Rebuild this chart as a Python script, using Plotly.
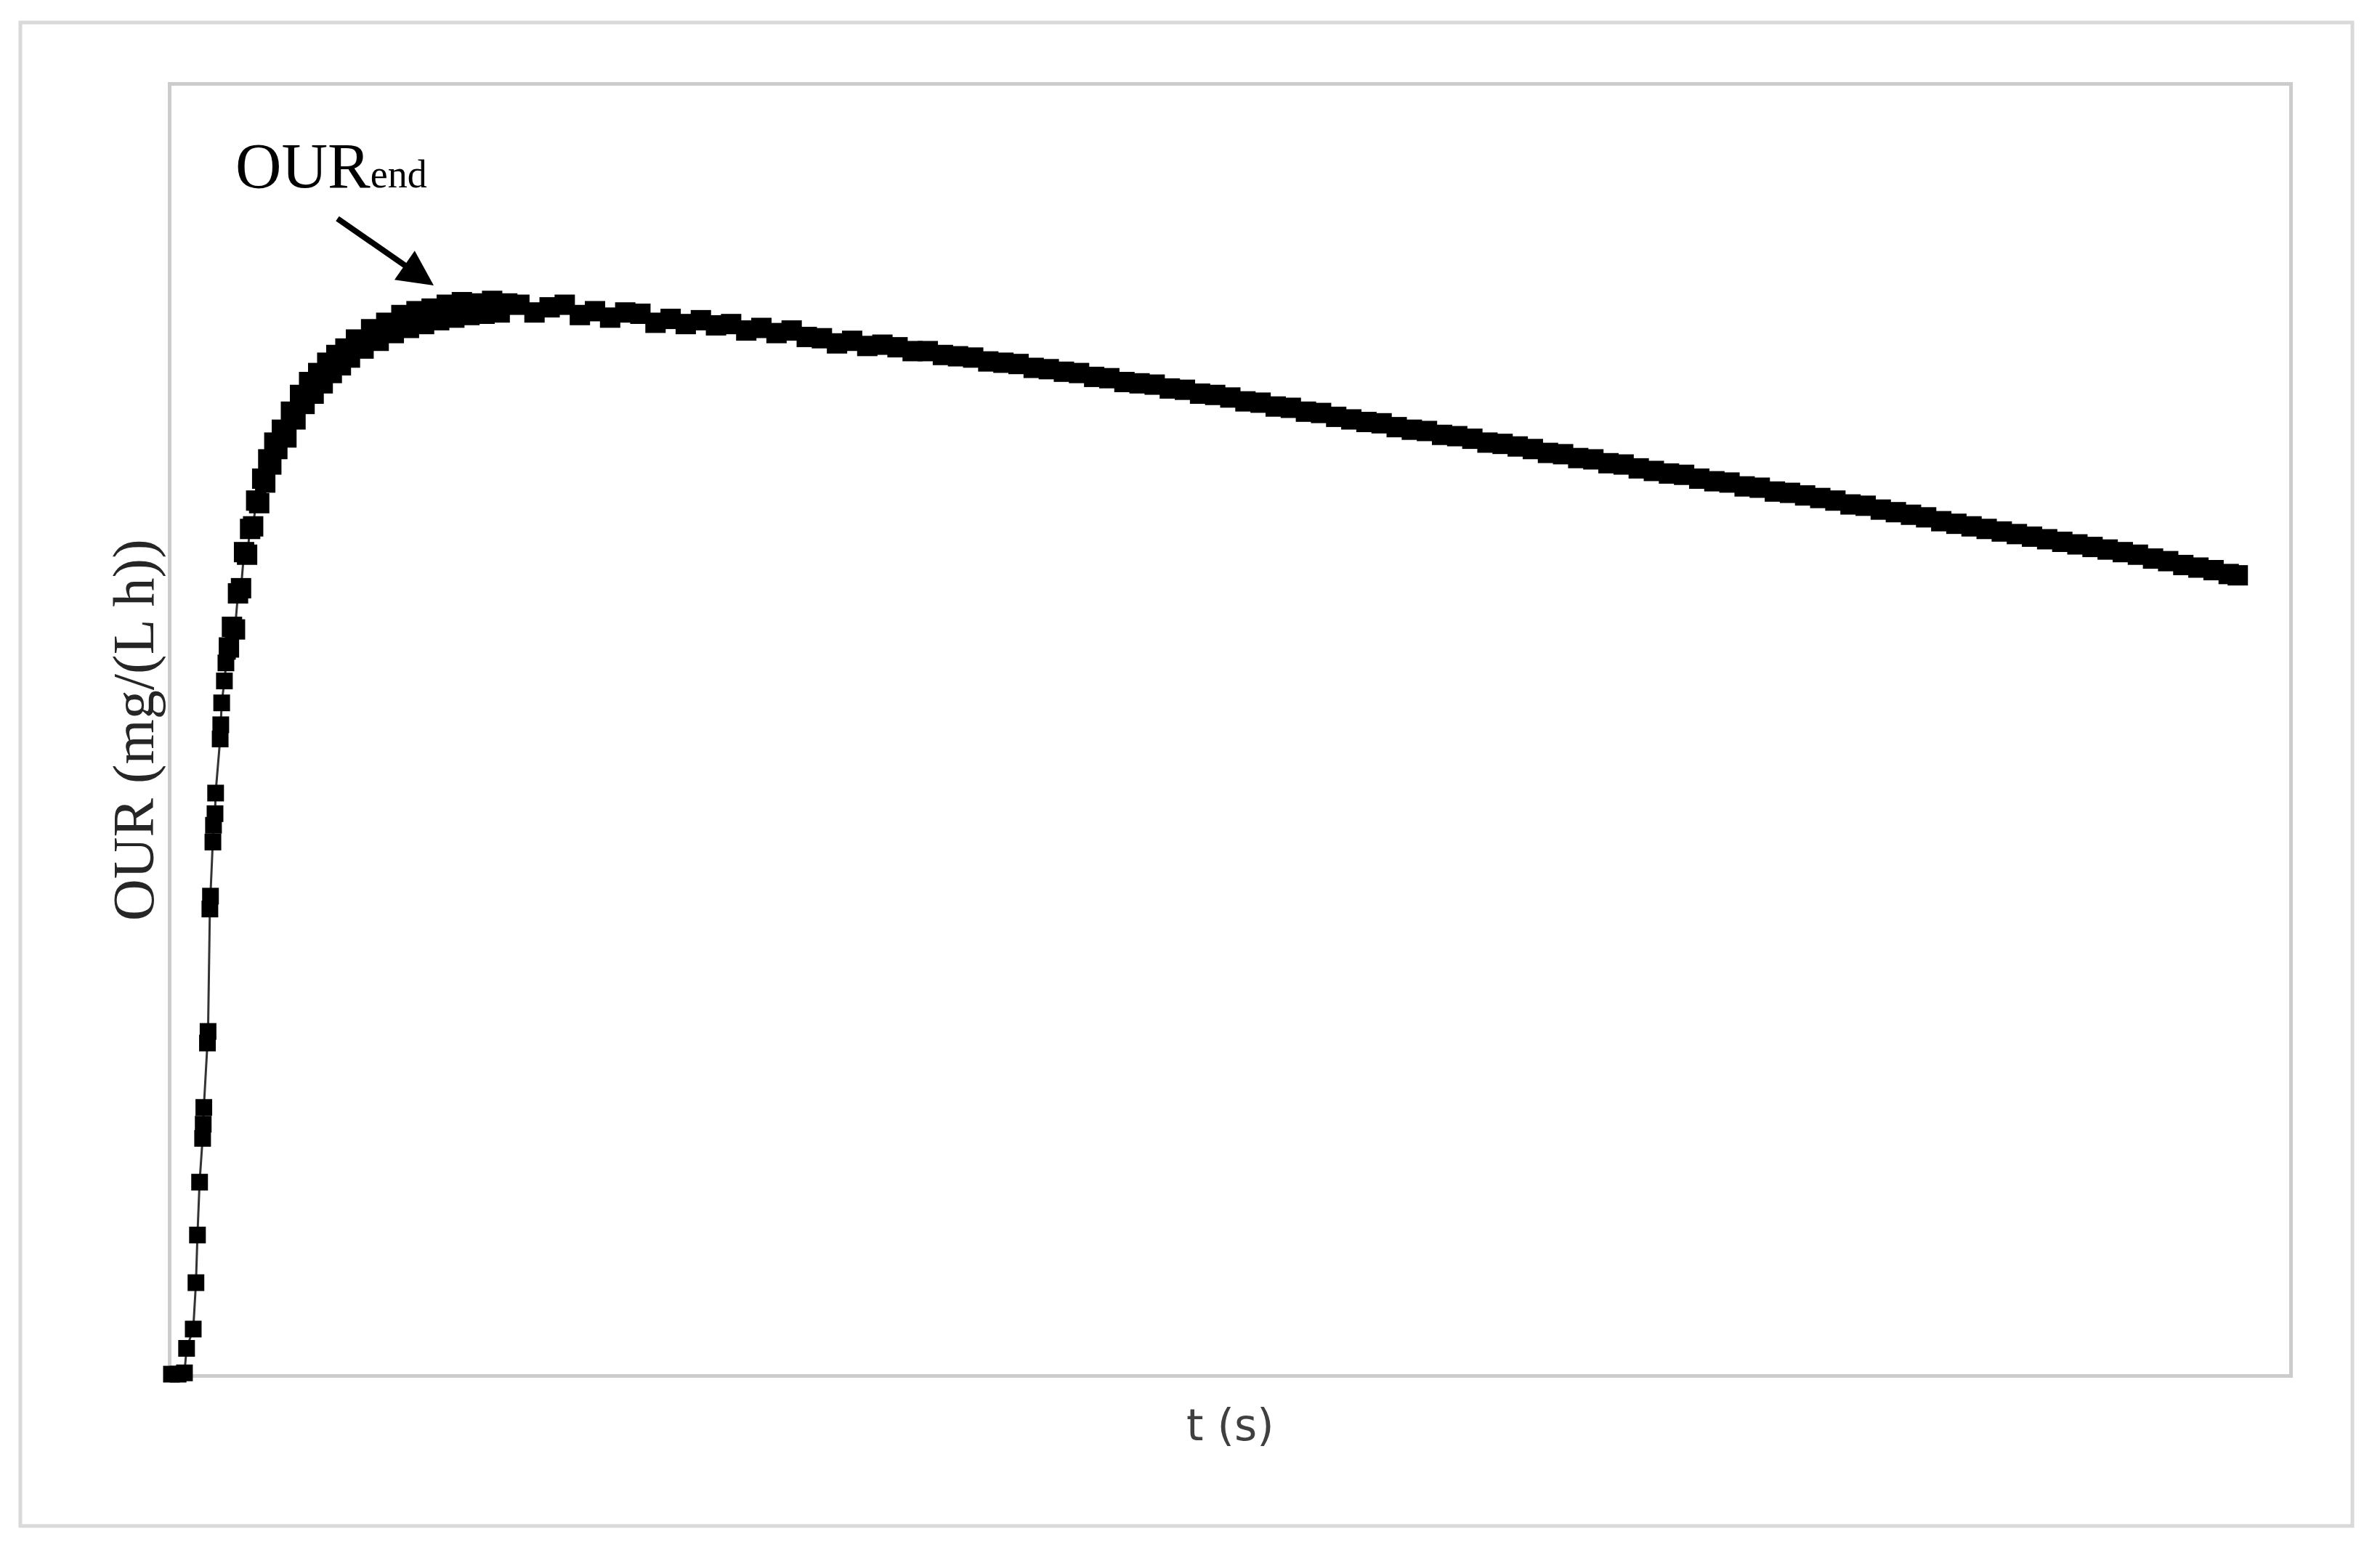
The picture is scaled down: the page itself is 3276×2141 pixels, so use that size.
import plotly.graph_objects as go

# OUR respirogram, values (no tick labels in the original)

# steep start, irregular sampling
t_rise = [0.0, 2.2, 4.3, 5.0, 7.2, 8.1, 8.6, 9.3, 10.3, 10.5, 10.7, 11.9, 12.1,
          12.7, 12.9, 13.7, 13.9, 14.4, 14.6, 16.1, 16.3, 16.6, 17.5, 18.0, 18.5]
our_rise = [0.0, 0.0, 0.1, 2.0, 3.5, 7.1, 10.8, 14.9, 18.3, 19.4, 20.7, 25.7, 26.6,
            36.1, 37.1, 41.3, 42.6, 43.5, 45.1, 49.3, 50.4, 52.1, 53.8, 55.2, 56.1]

# knee
t_knee = [19, 20, 21, 22, 23, 24, 25, 26, 27, 28, 29, 30, 31, 32, 33, 34, 35,
          36.5, 38, 39.5, 41, 42.5, 44, 45.5, 47, 48.5, 50, 51.5, 53, 54.5, 56, 57.5, 59,
          61, 63.5, 66, 68.5, 71, 73.5, 76, 78.5, 81, 83.5, 86, 88.5, 91, 93.5, 96, 98.5,
          101, 103.5, 106, 108.5, 111]
our_knee = [56.4, 58.0, 57.8, 60.6, 61.0, 63.8, 63.6, 65.6, 65.8, 67.8, 67.6, 69.5, 69.2,
            71.0, 70.6, 72.3, 71.8,
            73.3, 72.7, 74.7, 74.1, 76.0, 75.3, 77.0, 76.1, 77.7, 76.9, 78.5, 77.7, 79.1,
            78.3, 79.6, 78.9,
            80.3, 79.6, 81.1, 80.2, 81.6, 80.8, 82.2, 81.2, 82.5, 81.5, 82.7, 81.8, 83.0,
            82.0, 83.2, 82.2, 83.1, 82.3, 83.3, 82.4, 83.1]

# slow decline, every 5 s
t_tail = list(range(115, 685, 5)) + [683]
our_tail = [83.0, 82.4, 82.8, 83.0, 82.2, 82.5, 82.0, 82.4, 82.3, 81.6, 81.9, 81.5,
            81.8, 81.4, 81.5, 81.0, 81.2, 80.8, 81.0, 80.5, 80.4, 80.0, 80.2, 79.8, 79.9,
            79.7, 79.4, 79.4, 79.1, 79.0, 78.9, 78.6, 78.5, 78.4, 78.1, 78.0, 77.8,
            77.7, 77.4, 77.3, 77.0, 76.9, 76.8, 76.5, 76.4, 76.1, 76.0, 75.8, 75.5,
            75.4, 75.1, 75.0, 74.7, 74.6, 74.3, 74.1, 73.9, 73.8, 73.5, 73.3, 73.2,
            72.9, 72.8, 72.6, 72.3, 72.2, 72.0, 71.8, 71.5, 71.4, 71.1, 71.0, 70.7,
            70.6, 70.3, 70.1, 69.9, 69.8, 69.5, 69.3, 69.2, 68.9, 68.8, 68.5, 68.4,
            68.2, 68.0, 67.8, 67.5, 67.4, 67.1, 66.9, 66.7, 66.5, 66.2, 66.0, 65.8,
            65.6, 65.4, 65.2, 65.0, 64.8, 64.6, 64.4, 64.2, 64.0, 63.8, 63.6, 63.3,
            63.1, 62.8, 62.6, 62.4, 62.1, 62.0]

W, H = 3276, 2141
L, R, T, B = 236, 3151, 118, 1892   # plot area in pixels
X_MAX, Y_MAX = 700, 100


def px_x(p):
    return (p - L) / (R - L)


def px_y(p):
    return (B - p) / (B - T)


fig = go.Figure()

# full series: thin connecting line plus square markers
fig.add_trace(go.Scatter(
    x=t_rise + t_knee + t_tail,
    y=our_rise + our_knee + our_tail,
    mode='lines+markers',
    line=dict(color='#333333', width=3),
    marker=dict(symbol='square', size=23, color='black', line=dict(width=0)),
    cliponaxis=False,
    showlegend=False,
))

# where samples are dense they merge into a thicker band
fig.add_trace(go.Scatter(
    x=t_knee + t_tail,
    y=our_knee + our_tail,
    mode='markers',
    marker=dict(symbol='square', size=28, color='black', line=dict(width=0)),
    cliponaxis=False,
    showlegend=False,
))

axis_style = dict(showgrid=False, zeroline=False, showticklabels=False, ticks='',
                  showline=True, mirror=True, linecolor='#cccccc', linewidth=5,
                  layer='below traces')

fig.update_layout(
    width=W, height=H,
    margin=dict(l=L, r=W - R, t=T, b=H - B),
    paper_bgcolor='white', plot_bgcolor='white',
    xaxis=dict(range=[0, X_MAX], **axis_style),
    yaxis=dict(range=[0, Y_MAX], **axis_style),
    shapes=[dict(type='rect', xref='paper', yref='paper',
                 x0=px_x(28), x1=px_x(3238), y0=px_y(2101), y1=px_y(31),
                 line=dict(color='#d9d9d9', width=5), layer='below')],
    annotations=[
        # axis titles
        dict(text='t (s)', xref='paper', yref='paper', x=0.5, y=px_y(1962),
             xanchor='center', yanchor='middle', showarrow=False,
             font=dict(family='DejaVu Sans', size=60, color='#404040')),
        dict(text='OUR (mg/(L h))', xref='paper', yref='paper', x=px_x(184), y=0.5,
             xanchor='center', yanchor='middle', textangle=-90, showarrow=False,
             font=dict(family='Liberation Serif', size=80, color='#262626')),
        # OUR_end label and arrow
        dict(text='OUR<span style="font-size:54px">end</span>', xref='paper', yref='paper',
             x=px_x(322), y=px_y(279), xanchor='left', yanchor='bottom', showarrow=False,
             font=dict(family='Liberation Serif', size=88, color='black')),
        dict(text='', xref='x', yref='y',
             x=px_x(597) * X_MAX, y=px_y(393) * Y_MAX,
             ax=-134, ay=-93, showarrow=True, arrowhead=2, arrowwidth=8,
             arrowsize=1.22, arrowcolor='black', standoff=0),
    ],
)

fig.write_html("out.html", config={'displayModeBar': False},
               post_script="document.body.style.margin = '0';")
